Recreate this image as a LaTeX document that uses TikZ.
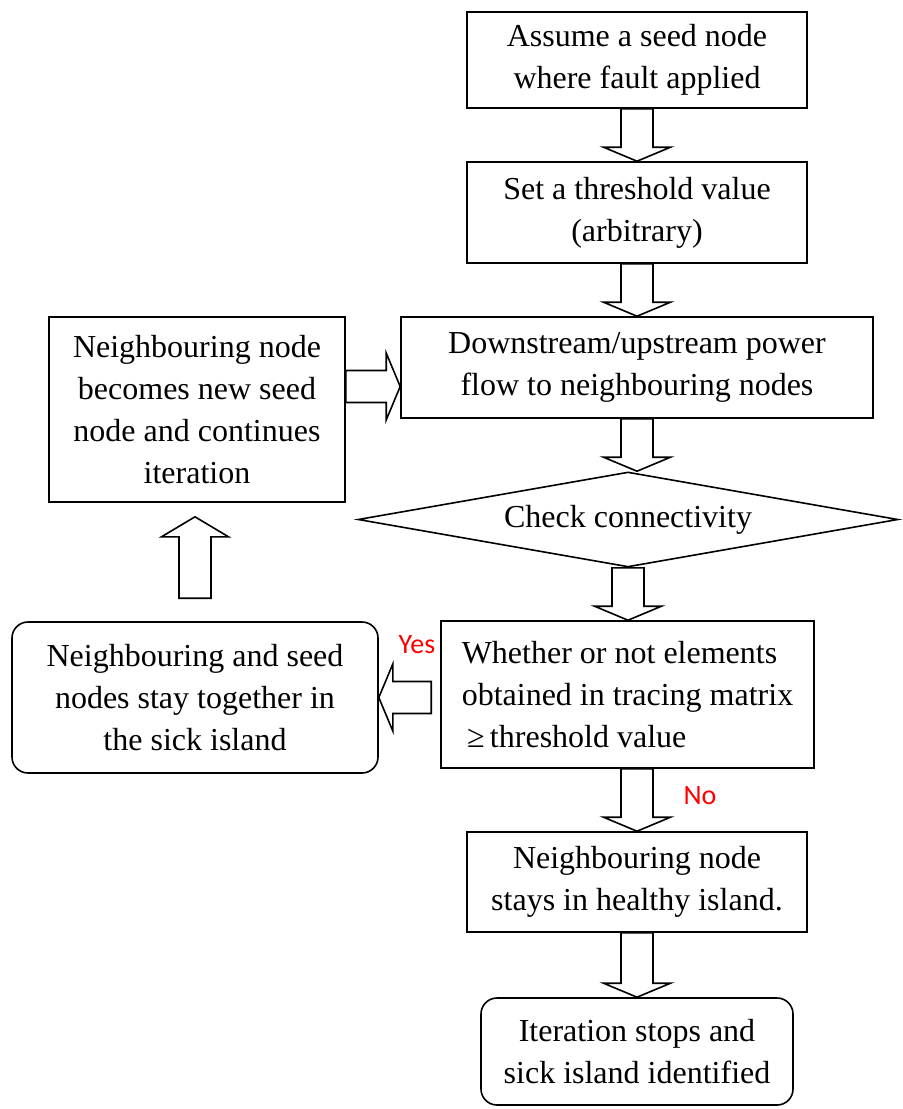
\documentclass[tikz,border=0pt]{standalone}
\usepackage{fontspec}
\setmainfont{Liberation Serif}
\newfontfamily\calibrifont{Carlito}
\usetikzlibrary{calc}
\usetikzlibrary{shapes.geometric}

\tikzset{
  box/.style={draw, line width=0.8pt, align=center, inner sep=3pt,
    font=\fontsize{16pt}{21pt}\selectfont},
  roundbox/.style={box, rounded corners=8pt},
  decision/.style={box, diamond, aspect=5.7, inner sep=0pt},
  answer/.style={font=\calibrifont\fontsize{14pt}{16pt}\selectfont, text=red, inner sep=0pt},
  fatarrow/.style={line width=0.8pt, to path={
    ($(\tikztostart)!8pt!90:(\tikztotarget)$)
    -- ($(\tikztotarget)!#1!(\tikztostart)!8pt!90:(\tikztotarget)$)
    -- ($(\tikztotarget)!#1!(\tikztostart)!16.75pt!90:(\tikztotarget)$)
    -- (\tikztotarget)
    -- ($(\tikztotarget)!#1!(\tikztostart)!16.75pt!-90:(\tikztotarget)$)
    -- ($(\tikztotarget)!#1!(\tikztostart)!8pt!-90:(\tikztotarget)$)
    -- ($(\tikztostart)!8pt!-90:(\tikztotarget)$) -- cycle}},
  fatarrow/.default=7pt
}

\begin{document}
\begin{tikzpicture}[x=0.5pt, y=-0.5pt]
\useasboundingbox (0,0) rectangle (902,1109);

\node[box, minimum width=170pt, minimum height=48pt] (seed) at (637,60) {Assume a seed node\\where fault applied};
\node[box, minimum width=170pt, minimum height=50.5pt] (thresh) at (637,212.5) {Set a threshold value\\(arbitrary)};
\node[box, minimum width=236pt, minimum height=50.5pt] (flow) at (637,367.5) {Downstream/upstream power\\flow to neighbouring nodes};
\node[box, minimum width=148pt, minimum height=92.5pt] (iter) at (197,409.5) {Neighbouring node\\becomes new seed\\node and continues\\iteration};
\node[decision, minimum width=270pt, minimum height=47.5pt] (check) at (628,519.5) {Check connectivity};
\node[box, align=left, minimum width=186.5pt, minimum height=73.5pt] (test) at (627.5,694.5) {Whether or not elements\\obtained in tracing matrix\\\,≥\,threshold value};
\node[roundbox, minimum width=183pt, minimum height=75.5pt] (sick) at (195,697.5) {Neighbouring and seed\\nodes stay together in\\the sick island};
\node[box, minimum width=170pt, minimum height=50pt] (healthy) at (637,882) {Neighbouring node\\stays in healthy island.};
\node[roundbox, minimum width=156pt, minimum height=53.5pt] (stop) at (637,1051.5) {Iteration stops and\\sick island identified};

\node[answer] (yes) at (417,645) {Yes};
\node[answer] (no) at (700,796) {No};

% free ends of the block arrows
\coordinate (c1) at (flow.south |- check.north);
\coordinate (c2) at (check.south |- test.north);
\coordinate (c3) at (test.south -| healthy.north);
\coordinate (c4) at ($(test.west |- sick.east)+(-9,0)$);
\coordinate (c5) at ($(sick.north)+(0,-23)$);
\coordinate (c6) at ($(c5 |- iter.south)+(0,14)$);
\coordinate (c7) at ($(flow.west)+(0,19)$);
\coordinate (c8) at (iter.east |- c7);

\draw[fatarrow] (seed.south) to (thresh.north);
\draw[fatarrow] (thresh.south) to (flow.north);
\draw[fatarrow] (flow.south) to (c1);
\draw[fatarrow] (check.south) to (c2);
\draw[fatarrow] (c3) to (healthy.north);
\draw[fatarrow] (healthy.south) to (stop.north);
\draw[fatarrow] (c8) to (c7);
\draw[fatarrow] (c4) to (sick.east);
\draw[fatarrow=10pt] (c5) to (c6);

\end{tikzpicture}
\end{document}
